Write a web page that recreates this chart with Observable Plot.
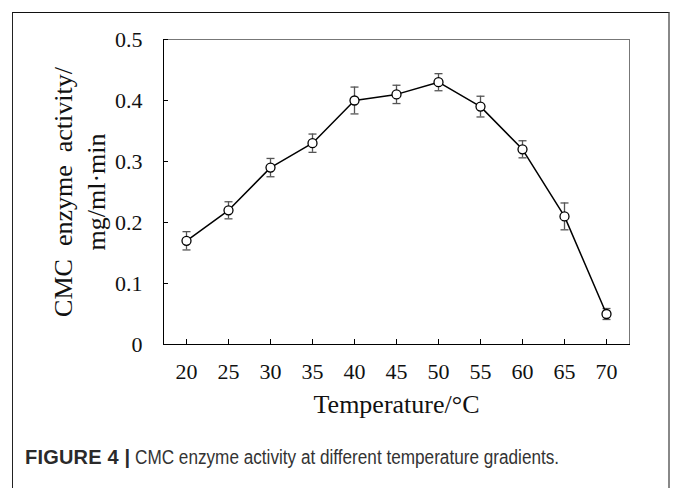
<!DOCTYPE html>
<html>
<head>
<meta charset="utf-8">
<script src="https://cdn.jsdelivr.net/npm/d3@7"></script>
<script src="https://cdn.jsdelivr.net/npm/@observablehq/plot@0.6"></script>
<style>
  body { margin: 0; background: #fff; }
  #border { position: absolute; left: 12px; top: 12px; width: 658px; height: 490px; box-sizing: border-box;
    border-top: 1.5px solid #111; border-left: 1.5px solid #222; border-right: 2px solid #888; }
  #chart { position: absolute; left: 0; top: 0; }
  #caption { position: absolute; left: 25px; top: 446px; font-family: "Liberation Sans", Arial, sans-serif;
    color: #333; white-space: nowrap; }
  #caption b { font-size: 20px; color: #2a2a2a; letter-spacing: 0.2px; }
  #caption span { display: inline-block; font-size: 19.5px; transform: scaleX(0.88); transform-origin: left center; }
</style>
</head>
<body>
<div id="border"></div>
<div id="chart"></div>
<div id="caption"><b>FIGURE 4 |</b> <span>CMC enzyme activity at different temperature gradients.</span></div>
<script>
const temperatures = [20, 25, 30, 35, 40, 45, 50, 55, 60, 65, 70];
const activity = [0.17, 0.22, 0.29, 0.33, 0.40, 0.41, 0.43, 0.39, 0.32, 0.21, 0.05];
const errors = [0.015, 0.014, 0.015, 0.015, 0.022, 0.015, 0.014, 0.017, 0.014, 0.022, 0.009];
const yTicks = [0, 0.1, 0.2, 0.3, 0.4, 0.5];
const xLabel = "Temperature/°C";
const yLabel = "CMC  enzyme  activity/\nmg/ml·min";

const data = temperatures.map((t, i) => ({t, v: activity[i], lo: activity[i] - errors[i], hi: activity[i] + errors[i]}));

const capSymbol = { draw(context) { context.moveTo(-4, 0); context.lineTo(4, 0); } };
const serif = "'Liberation Serif', 'Times New Roman', serif";

const chart = Plot.plot({
  width: 673,
  height: 440,
  marginLeft: 163,
  marginRight: 44,
  marginTop: 39,
  marginBottom: 96,
  style: { fontFamily: serif, background: "transparent", overflow: "visible" },
  x: { type: "point", domain: temperatures, padding: 0.5 },
  y: { domain: [0, 0.5] },
  marks: [
    Plot.frame({ stroke: "#777" }),
    Plot.frame({ anchor: "left", stroke: "#000" }),
    Plot.frame({ anchor: "bottom", stroke: "#000" }),
    Plot.axisY(yTicks, { tickSize: 5, dx: 5, fill: "none", label: null, stroke: "#000" }),
    Plot.axisY(yTicks, { tickSize: 0, tickPadding: 21, fontSize: 22, label: null, fill: "#111", tickFormat: d => String(d) }),
    Plot.axisX(temperatures, { tickSize: 5, dy: -5, fill: "none", label: null, stroke: "#000" }),
    Plot.axisX(temperatures, { tickSize: 0, tickPadding: 19, fontSize: 22, label: null, fill: "#111" }),
    Plot.ruleX(data, { x: "t", y1: "lo", y2: "hi", stroke: "#555", strokeWidth: 1.3 }),
    Plot.dot(data, { x: "t", y: "lo", symbol: capSymbol, stroke: "#555", strokeWidth: 1.3 }),
    Plot.dot(data, { x: "t", y: "hi", symbol: capSymbol, stroke: "#555", strokeWidth: 1.3 }),
    Plot.line(data, { x: "t", y: "v", stroke: "#000", strokeWidth: 1.5 }),
    Plot.dot(data, { x: "t", y: "v", r: 4.5, fill: "white", stroke: "#000", strokeWidth: 1.3 }),
    Plot.text([yLabel], { frameAnchor: "left", textAnchor: "middle", rotate: -90, dx: -86, fontSize: 26, lineHeight: 1.27, fill: "#111" }),
    Plot.text([xLabel], { frameAnchor: "bottom", dy: 68, fontSize: 26, fill: "#111" })
  ]
});
document.getElementById("chart").appendChild(chart);
</script>
</body>
</html>
